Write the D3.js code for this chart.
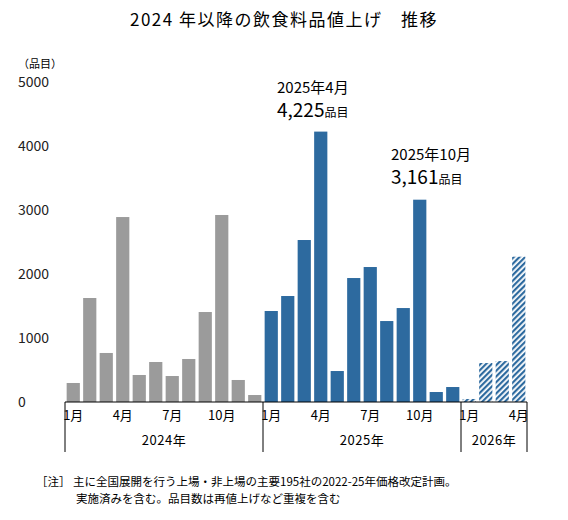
<!DOCTYPE html><html><head><meta charset="utf-8"><script src="https://cdn.jsdelivr.net/npm/d3@7"></script>
<style>body{margin:0;background:#fff;font-family:"Noto Sans CJK JP","Noto Sans",sans-serif;}</style></head><body><svg id="c" width="568" height="520"></svg>
<script>
const months=["1月","2月","3月","4月","5月","6月","7月","8月","9月","10月","11月","12月","1月","2月","3月","4月","5月","6月","7月","8月","9月","10月","11月","12月","1月","2月","3月","4月"];
const values=[297,1625,766,2890,422,625,406,672,1406,2922,344,109,1422,1656,2531,4225,484,1937,2109,1265,1468,3161,156,234,47,609,640,2270];
const kinds=["2024","2024","2024","2024","2024","2024","2024","2024","2024","2024","2024","2024","2025","2025","2025","2025","2025","2025","2025","2025","2025","2025","2025","2025","plan","plan","plan","plan"];
const years=["2024年","2025年","2026年"];
const yTicks=[0,1000,2000,3000,4000,5000];
const shownMonths=["1月","4月","7月","10月"];
const svg=d3.select("#c");
const x=d3.scaleBand().domain(d3.range(values.length)).range([65,527]).paddingInner(0.2).paddingOuter(0.1);
const y=d3.scaleLinear().domain([0,5000]).range([402,82]);
const defs=svg.append("defs");
const p=defs.append("pattern").attr("id","h").attr("patternUnits","userSpaceOnUse").attr("width",4).attr("height",4).attr("patternTransform","rotate(45)");
p.append("rect").attr("width",4).attr("height",4).attr("fill","#fff");
p.append("rect").attr("width",2.2).attr("height",4).attr("fill","#2d6a9f");
svg.append("text").attr("x",284).attr("y",26).attr("text-anchor","middle").attr("font-size",17).attr("letter-spacing",1.5).text("2024 年以降の飲食料品値上げ　推移");
svg.append("text").attr("x",18).attr("y",68).attr("font-size",11).text("（品目）");
svg.selectAll(".yt").data(yTicks).join("text").attr("x",18).attr("y",d=>y(d)+5).attr("font-size",14).attr("fill","#222").text(d=>d);
svg.selectAll(".b").data(values).join("rect").attr("x",(d,i)=>x(i)).attr("width",x.bandwidth()).attr("y",d=>y(d)).attr("height",d=>y(0)-y(d))
 .attr("fill",(d,i)=>kinds[i]=="2024"?"#9b9b9b":kinds[i]=="2025"?"#2d6a9f":"url(#h)");
svg.append("line").attr("x1",65).attr("x2",527).attr("y1",402).attr("y2",402).attr("stroke","#000");
const step=x.step();
[0,12,24,28].forEach(i=>{const xx=65+i*step;svg.append("line").attr("x1",xx).attr("x2",xx).attr("y1",402).attr("y2",452).attr("stroke","#000");});
svg.selectAll(".m").data(months).join("text").filter(d=>shownMonths.includes(d))
 .attr("x",(d,i)=>0).attr("y",420).attr("font-size",13).attr("text-anchor","middle").text(d=>d);
svg.selectAll("text").filter(function(){return false;});
// position month labels
svg.selectAll("text").filter(function(d,i){return false;});
const ml=svg.append("g");
months.forEach((m,i)=>{if(shownMonths.includes(m))ml.append("text").attr("x",x(i)+x.bandwidth()/2).attr("y",420).attr("font-size",13).attr("text-anchor","middle").text(m);});
svg.selectAll("text").filter(function(){return this.getAttribute("x")==="0";}).remove();
[[0,12],[12,24],[24,28]].forEach((r,k)=>{svg.append("text").attr("x",65+(r[0]+r[1])/2*step).attr("y",445).attr("font-size",13).attr("text-anchor","middle").attr("letter-spacing",0.5).text(years[k]);});
function ann(i,lab,num,ty){const t=svg.append("text").attr("x",x(i)-40).attr("y",ty).attr("font-size",15).text(lab);
 const t2=svg.append("text").attr("x",x(i)-40).attr("y",ty+24).attr("font-size",19);t2.append("tspan").text(d3.format(",")(num));t2.append("tspan").attr("font-size",12).text("品目");}
ann(15,"2025年4月",values[15],93);
svg.selectAll("text").filter(function(){return this.textContent.startsWith("2025年4月")||this.textContent.startsWith("4,225");}).attr("x",277);
const t=svg.append("text").attr("x",391).attr("y",160).attr("font-size",15).text("2025年10月");
const t2=svg.append("text").attr("x",391).attr("y",184).attr("font-size",19);t2.append("tspan").text(d3.format(",")(values[21]));t2.append("tspan").attr("font-size",12).text("品目");
svg.append("text").attr("x",36).attr("y",486).attr("font-size",11.5).text("［注］ 主に全国展開を行う上場・非上場の主要195社の2022-25年価格改定計画。");
svg.append("text").attr("x",76).attr("y",503).attr("font-size",11.5).text("実施済みを含む。品目数は再値上げなど重複を含む");
</script></body></html>
